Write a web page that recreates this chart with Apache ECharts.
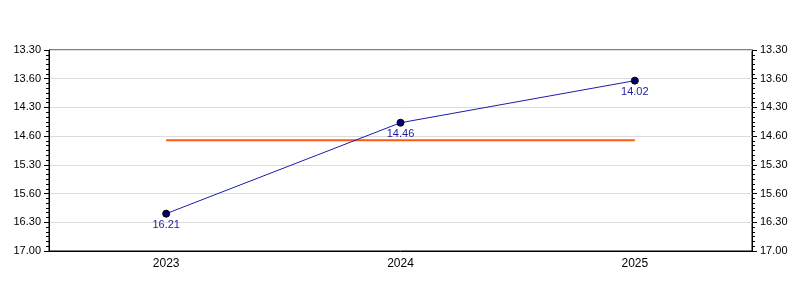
<!DOCTYPE html>
<html>
<head>
<meta charset="utf-8">
<script src="https://cdn.jsdelivr.net/npm/echarts@6/dist/echarts.min.js"></script>
<style>html,body{margin:0;padding:0;background:#fff;}#c{width:800px;height:300px;}</style>
</head>
<body>
<div id="c"></div>
<script>
// Categories (years)
const categories = ['2023', '2024', '2025'];
// Times in decimal minutes (16:21, 14:46, 14:02)
const timeValues = [16.35, 14.7667, 14.0333];
// Reference (average) line in decimal minutes
const refValues = [15.07, 15.07, 15.07];
// Y tick labels as printed in the reference (top to bottom)
const yTickLabels = ['13.30', '13.60', '14.30', '14.60', '15.30', '15.60', '16.30', '17.00'];
const yMin = 13.5, yMax = 17.0, yStep = 0.5;

function fmtTime(v) {
  const m = Math.floor(v);
  let s = Math.round((v - m) * 60);
  return m + '.' + (s < 10 ? '0' + s : s);
}

const font = 'Liberation Sans, Arial, sans-serif';
function yAxis(pos, showSplit) {
  return {
    type: 'value', position: pos, inverse: true,
    min: yMin, max: yMax, interval: yStep,
    axisLine: { show: true, lineStyle: { color: '#000', width: 1 } },
    axisTick: { show: true, length: 5, lineStyle: { color: '#000' } },
    minorTick: { show: true, splitNumber: 6, length: 3, lineStyle: { color: '#000' } },
    splitLine: { show: showSplit, lineStyle: { color: '#dcdcdc', width: 1 } },
    axisLabel: {
      color: '#000', fontFamily: font, fontSize: 11, margin: 8,
      formatter: function (v, i) { return yTickLabels[i]; }
    }
  };
}

const chart = echarts.init(document.getElementById('c'), null, { renderer: 'canvas' });
chart.setOption({
  animation: false,
  grid: { left: 49, right: 48, top: 50, bottom: 49, show: true, borderColor: '#000', borderWidth: 1, backgroundColor: 'transparent' },
  xAxis: {
    type: 'category', data: categories, boundaryGap: true,
    axisLine: { lineStyle: { color: '#000' } },
    axisTick: { alignWithLabel: true, length: 4, lineStyle: { color: '#000' } },
    axisLabel: { color: '#000', fontFamily: font, fontSize: 12, margin: 7 }
  },
  yAxis: [yAxis('left', true), yAxis('right', false)],
  series: [
    {
      type: 'line', data: refValues, yAxisIndex: 0,
      symbol: 'none', lineStyle: { color: '#ff5a14', width: 2 }, z: 1,
      silent: true
    },
    {
      type: 'line', data: timeValues, yAxisIndex: 0,
      symbol: 'circle', symbolSize: 7,
      itemStyle: { color: '#00006e', borderColor: '#000', borderWidth: 1 },
      lineStyle: { color: '#1c1cab', width: 1 },
      label: {
        show: true, position: 'bottom', distance: 2,
        color: '#1c1c9c', fontFamily: font, fontSize: 11,
        formatter: function (p) { return fmtTime(p.value); }
      },
      z: 3
    }
  ]
});
</script>
</body>
</html>
